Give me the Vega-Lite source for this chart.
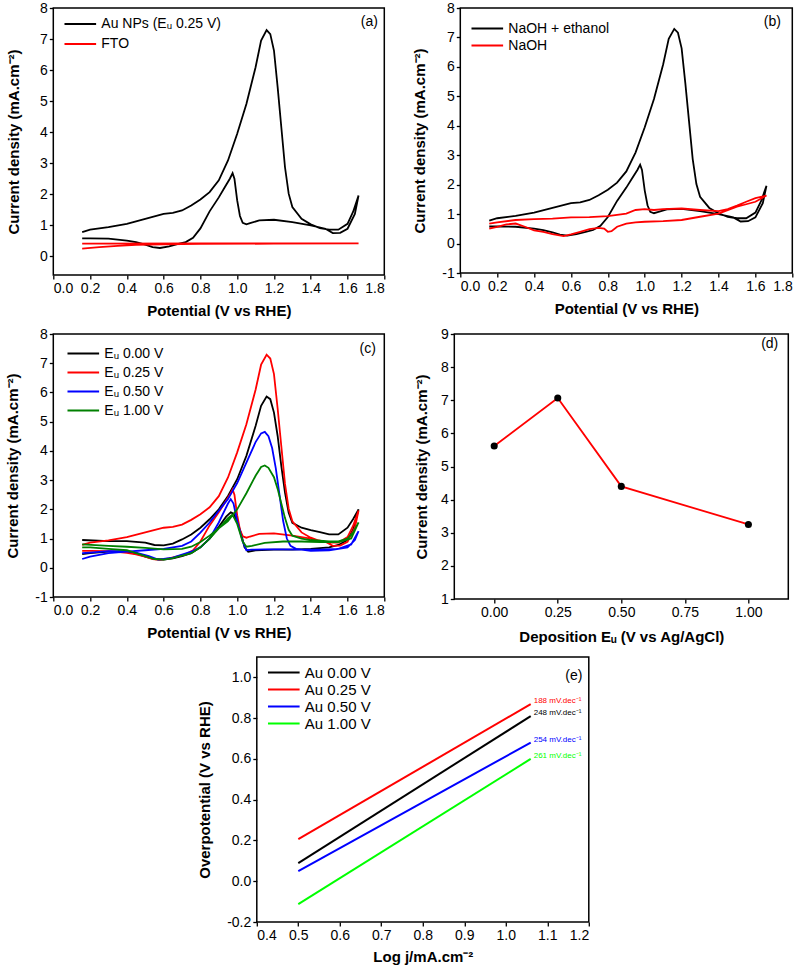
{
  "$schema": "https://vega.github.io/schema/vega-lite/v6.json",
  "background": "white",
  "padding": {"left": 5, "top": 0, "right": 0, "bottom": 0},
  "config": {
    "font": "Liberation Sans",
    "view": {"stroke": "black", "strokeWidth": 1.5},
    "axis": {"grid": false, "domain": false, "tickColor": "black", "tickSize": 4, "tickWidth": 1.3, "labelColor": "black", "labelFontSize": 14, "labelFont": "Liberation Sans", "titleFont": "Liberation Sans", "titleFontSize": 15, "titleFontWeight": "bold", "titleColor": "black", "labelPadding": 2, "labelOverlap": false, "labelBound": false},
    "axisX": {"titlePadding": 8},
    "legend": {"title": null, "symbolType": "stroke", "symbolSize": 1000, "symbolStrokeWidth": 2, "labelFont": "Liberation Sans", "labelFontSize": 14, "labelColor": "black", "rowPadding": 0, "labelOffset": 4, "orient": "none"},
    "line": {"strokeWidth": 1.8},
    "title": {"fontWeight": "normal", "fontSize": 14, "font": "Liberation Sans", "anchor": "end", "orient": "top", "color": "black"}
  },
  "datasets": {
    "au025": [
      {"v":0.157,"j":0.78},{"v":0.2,"j":0.86},{"v":0.3,"j":0.94},{"v":0.4,"j":1.05},{"v":0.5,"j":1.21},{"v":0.6,"j":1.37},{"v":0.65,"j":1.4},{"v":0.7,"j":1.48},{"v":0.75,"j":1.64},{"v":0.8,"j":1.83},{"v":0.85,"j":2.07},{"v":0.9,"j":2.45},{"v":0.95,"j":3.09},{"v":1.0,"j":3.95},{"v":1.05,"j":4.91},{"v":1.1,"j":6.09},{"v":1.13,"j":6.95},{"v":1.16,"j":7.29},{"v":1.18,"j":7.16},{"v":1.2,"j":6.63},{"v":1.22,"j":5.45},{"v":1.24,"j":4.16},{"v":1.26,"j":2.87},{"v":1.28,"j":2.02},{"v":1.3,"j":1.59},{"v":1.35,"j":1.21},{"v":1.4,"j":1.03},{"v":1.45,"j":0.91},{"v":1.5,"j":0.86},{"v":1.55,"j":0.86},{"v":1.6,"j":1.05},{"v":1.63,"j":1.43},{"v":1.66,"j":1.96},
      {"v":1.64,"j":1.37},{"v":1.6,"j":0.89},{"v":1.56,"j":0.76},{"v":1.52,"j":0.75},{"v":1.48,"j":0.89},{"v":1.4,"j":1.0},{"v":1.3,"j":1.1},{"v":1.2,"j":1.18},{"v":1.12,"j":1.16},{"v":1.07,"j":1.07},{"v":1.05,"j":1.03},{"v":1.03,"j":1.08},{"v":1.015,"j":1.3},{"v":1.0,"j":1.8},{"v":0.985,"j":2.5},{"v":0.975,"j":2.68},{"v":0.96,"j":2.5},{"v":0.93,"j":2.2},{"v":0.9,"j":1.9},{"v":0.85,"j":1.45},{"v":0.8,"j":0.9},{"v":0.76,"j":0.6},{"v":0.72,"j":0.46},{"v":0.68,"j":0.4},{"v":0.63,"j":0.32},{"v":0.58,"j":0.27},{"v":0.54,"j":0.3},{"v":0.5,"j":0.38},{"v":0.45,"j":0.46},{"v":0.4,"j":0.51},{"v":0.3,"j":0.57},{"v":0.2,"j":0.58},{"v":0.157,"j":0.58}
    ],
    "fto": [
      {"v":0.157,"j":0.25},{"v":0.25,"j":0.3},{"v":0.35,"j":0.34},{"v":0.45,"j":0.37},{"v":0.6,"j":0.39},{"v":0.8,"j":0.4},{"v":1.2,"j":0.41},{"v":1.66,"j":0.42},{"v":1.2,"j":0.42},{"v":0.8,"j":0.42},{"v":0.157,"j":0.41}
    ],
    "naoh": [
      {"v":0.157,"j":0.68},{"v":0.2,"j":0.72},{"v":0.3,"j":0.8},{"v":0.4,"j":0.83},{"v":0.5,"j":0.85},{"v":0.6,"j":0.89},{"v":0.7,"j":0.9},{"v":0.8,"j":0.93},{"v":0.9,"j":1.02},{"v":0.95,"j":1.14},{"v":1.0,"j":1.17},{"v":1.05,"j":1.14},{"v":1.1,"j":1.17},{"v":1.2,"j":1.19},{"v":1.3,"j":1.14},{"v":1.4,"j":1.1},{"v":1.45,"j":1.17},{"v":1.5,"j":1.29},{"v":1.55,"j":1.42},{"v":1.6,"j":1.54},{"v":1.66,"j":1.63},
      {"v":1.6,"j":1.42},{"v":1.5,"j":1.25},{"v":1.4,"j":1.02},{"v":1.3,"j":0.91},{"v":1.2,"j":0.8},{"v":1.1,"j":0.76},{"v":1.0,"j":0.74},{"v":0.95,"j":0.72},{"v":0.9,"j":0.68},{"v":0.85,"j":0.57},{"v":0.82,"j":0.42},{"v":0.8,"j":0.4},{"v":0.78,"j":0.51},{"v":0.75,"j":0.53},{"v":0.7,"j":0.49},{"v":0.65,"j":0.4},{"v":0.6,"j":0.31},{"v":0.56,"j":0.25},{"v":0.5,"j":0.32},{"v":0.45,"j":0.4},{"v":0.4,"j":0.45},{"v":0.35,"j":0.57},{"v":0.3,"j":0.68},{"v":0.25,"j":0.65},{"v":0.2,"j":0.57},{"v":0.157,"j":0.51}
    ],
    "au000": [
      {"v":0.157,"j":0.95},{"v":0.3,"j":0.91},{"v":0.4,"j":0.91},{"v":0.5,"j":0.86},{"v":0.55,"j":0.78},{"v":0.6,"j":0.77},{"v":0.65,"j":0.83},{"v":0.7,"j":0.97},{"v":0.75,"j":1.14},{"v":0.8,"j":1.37},{"v":0.85,"j":1.66},{"v":0.9,"j":2.0},{"v":0.95,"j":2.46},{"v":1.0,"j":3.03},{"v":1.05,"j":3.83},{"v":1.1,"j":4.85},{"v":1.13,"j":5.54},{"v":1.16,"j":5.86},{"v":1.18,"j":5.77},{"v":1.2,"j":5.31},{"v":1.22,"j":4.51},{"v":1.24,"j":3.48},{"v":1.26,"j":2.57},{"v":1.28,"j":1.88},{"v":1.3,"j":1.54},{"v":1.35,"j":1.37},{"v":1.4,"j":1.29},{"v":1.45,"j":1.22},{"v":1.5,"j":1.14},{"v":1.55,"j":1.14},{"v":1.6,"j":1.37},{"v":1.63,"j":1.66},{"v":1.66,"j":2.0},
      {"v":1.63,"j":1.3},{"v":1.6,"j":0.95},{"v":1.55,"j":0.78},{"v":1.5,"j":0.7},{"v":1.4,"j":0.65},{"v":1.3,"j":0.62},{"v":1.2,"j":0.62},{"v":1.1,"j":0.6},{"v":1.06,"j":0.55},{"v":1.04,"j":0.7},{"v":1.02,"j":1.2},{"v":1.0,"j":1.6},{"v":0.98,"j":1.85},{"v":0.965,"j":1.9},{"v":0.94,"j":1.75},{"v":0.9,"j":1.4},{"v":0.85,"j":1.0},{"v":0.8,"j":0.7},{"v":0.75,"j":0.5},{"v":0.7,"j":0.4},{"v":0.65,"j":0.32},{"v":0.6,"j":0.28},{"v":0.55,"j":0.3},{"v":0.5,"j":0.38},{"v":0.45,"j":0.48},{"v":0.4,"j":0.55},{"v":0.3,"j":0.55},{"v":0.2,"j":0.5},{"v":0.157,"j":0.47}
    ],
    "au050": [
      {"v":0.157,"j":0.3},{"v":0.2,"j":0.38},{"v":0.3,"j":0.5},{"v":0.4,"j":0.55},{"v":0.5,"j":0.6},{"v":0.6,"j":0.65},{"v":0.7,"j":0.75},{"v":0.75,"j":0.9},{"v":0.8,"j":1.2},{"v":0.85,"j":1.55},{"v":0.9,"j":1.95},{"v":0.95,"j":2.35},{"v":1.0,"j":2.9},{"v":1.05,"j":3.6},{"v":1.1,"j":4.3},{"v":1.13,"j":4.6},{"v":1.15,"j":4.65},{"v":1.17,"j":4.5},{"v":1.19,"j":4.1},{"v":1.21,"j":3.4},{"v":1.23,"j":2.5},{"v":1.25,"j":1.6},{"v":1.27,"j":1.0},{"v":1.29,"j":0.75},{"v":1.32,"j":0.65},{"v":1.4,"j":0.58},{"v":1.5,"j":0.6},{"v":1.6,"j":0.7},{"v":1.64,"j":0.95},{"v":1.66,"j":1.25},
      {"v":1.62,"j":0.8},{"v":1.55,"j":0.65},{"v":1.45,"j":0.62},{"v":1.35,"j":0.62},{"v":1.25,"j":0.63},{"v":1.15,"j":0.63},{"v":1.08,"j":0.62},{"v":1.05,"j":0.6},{"v":1.03,"j":0.9},{"v":1.0,"j":1.6},{"v":0.98,"j":2.2},{"v":0.965,"j":2.35},{"v":0.95,"j":2.2},{"v":0.9,"j":1.55},{"v":0.85,"j":1.0},{"v":0.8,"j":0.7},{"v":0.75,"j":0.55},{"v":0.7,"j":0.45},{"v":0.65,"j":0.35},{"v":0.6,"j":0.3},{"v":0.57,"j":0.28},{"v":0.52,"j":0.4},{"v":0.45,"j":0.52},{"v":0.4,"j":0.57},{"v":0.3,"j":0.57},{"v":0.2,"j":0.52},{"v":0.157,"j":0.5}
    ],
    "au100": [
      {"v":0.157,"j":0.8},{"v":0.3,"j":0.75},{"v":0.4,"j":0.72},{"v":0.5,"j":0.68},{"v":0.6,"j":0.63},{"v":0.7,"j":0.65},{"v":0.75,"j":0.72},{"v":0.8,"j":0.88},{"v":0.85,"j":1.1},{"v":0.9,"j":1.35},{"v":0.95,"j":1.6},{"v":1.0,"j":2.0},{"v":1.05,"j":2.55},{"v":1.1,"j":3.15},{"v":1.13,"j":3.45},{"v":1.15,"j":3.5},{"v":1.17,"j":3.42},{"v":1.2,"j":3.1},{"v":1.22,"j":2.7},{"v":1.24,"j":2.2},{"v":1.26,"j":1.7},{"v":1.28,"j":1.3},{"v":1.3,"j":1.1},{"v":1.35,"j":1.0},{"v":1.4,"j":0.95},{"v":1.5,"j":0.9},{"v":1.55,"j":0.9},{"v":1.6,"j":1.0},{"v":1.63,"j":1.2},{"v":1.66,"j":1.55},
      {"v":1.62,"j":1.0},{"v":1.55,"j":0.88},{"v":1.45,"j":0.88},{"v":1.35,"j":0.9},{"v":1.25,"j":0.9},{"v":1.15,"j":0.85},{"v":1.08,"j":0.75},{"v":1.05,"j":0.72},{"v":1.03,"j":0.9},{"v":1.0,"j":1.5},{"v":0.98,"j":1.75},{"v":0.97,"j":1.8},{"v":0.95,"j":1.7},{"v":0.9,"j":1.35},{"v":0.85,"j":1.0},{"v":0.8,"j":0.7},{"v":0.75,"j":0.5},{"v":0.7,"j":0.42},{"v":0.65,"j":0.33},{"v":0.6,"j":0.28},{"v":0.55,"j":0.3},{"v":0.5,"j":0.4},{"v":0.45,"j":0.5},{"v":0.4,"j":0.6},{"v":0.3,"j":0.65},{"v":0.2,"j":0.7},{"v":0.157,"j":0.7}
    ],
    "dep": [
      {"e":0.0,"j":5.62},{"e":0.25,"j":7.07},{"e":0.5,"j":4.4},{"e":1.0,"j":3.25}
    ],
    "tafel": [
      {"s":"Au 0.00 V","x":0.5,"y":0.089,"slope":""},{"s":"Au 0.00 V","x":1.06,"y":0.81,"slope":"248 mV.dec⁻¹"},
      {"s":"Au 0.25 V","x":0.5,"y":0.206,"slope":""},{"s":"Au 0.25 V","x":1.06,"y":0.869,"slope":"188 mV.dec⁻¹"},
      {"s":"Au 0.50 V","x":0.5,"y":0.049,"slope":""},{"s":"Au 0.50 V","x":1.06,"y":0.68,"slope":"254 mV.dec⁻¹"},
      {"s":"Au 1.00 V","x":0.5,"y":-0.112,"slope":""},{"s":"Au 1.00 V","x":1.06,"y":0.6,"slope":"261 mV.dec⁻¹"}
    ]
  },
  "spacing": 11,
  "center": true,
  "resolve": {"scale": {"x": "independent", "y": "independent", "color": "independent"}, "legend": {"color": "independent"}},
  "vconcat": [
    {
      "spacing": 7,
      "resolve": {"scale": {"x": "independent", "y": "independent", "color": "independent"}, "legend": {"color": "independent"}},
      "vconcat": [
        {
          "bounds": "flush",
          "spacing": 76,
          "resolve": {"scale": {"x": "independent", "y": "independent", "color": "independent"}, "legend": {"color": "independent"}},
          "hconcat": [
            {
              "width": 331, "height": 267,
              "title": {"text": "(a)", "offset": -28, "dx": -7},
              "encoding": {
                "x": {"field": "v", "type": "quantitative", "scale": {"domain": [0, 1.8], "nice": false}, "axis": {"values": [0,0.2,0.4,0.6,0.8,1.0,1.2,1.4,1.6,1.8], "format": ".1f", "labelOverlap": false, "title": "Potential (V vs RHE)"}},
                "y": {"field": "j", "type": "quantitative", "scale": {"domain": [-0.6, 8], "nice": false}, "axis": {"values": [0,1,2,3,4,5,6,7,8], "labelOverlap": false, "title": "Current density (mA.cm⁻²)", "titlePadding": 18}},
                "order": {"value": null}
              },
              "layer": [
                {
                  "data": {"name": "au025"},
                  "mark": {"type": "line", "clip": true},
                  "encoding": {
                    "color": {"datum": "Au NPs (Eᵤ 0.25 V)", "type": "nominal", "scale": {"domain": ["Au NPs (Eᵤ 0.25 V)", "FTO"], "range": ["black", "red"]}, "legend": {"legendX": 10, "legendY": 6, "clipHeight": 20}}
                  }
                },
                {
                  "data": {"name": "fto"},
                  "mark": {"type": "line", "clip": true},
                  "encoding": {"color": {"datum": "FTO", "type": "nominal"}}
                }
              ]
            },
            {
              "width": 332, "height": 265,
              "title": {"text": "(b)", "offset": -28, "dx": -12},
              "encoding": {
                "x": {"field": "v", "type": "quantitative", "scale": {"domain": [0, 1.8], "nice": false}, "axis": {"values": [0,0.2,0.4,0.6,0.8,1.0,1.2,1.4,1.6,1.8], "format": ".1f", "labelOverlap": false, "title": "Potential (V vs RHE)"}},
                "y": {"field": "j", "type": "quantitative", "scale": {"domain": [-1, 8], "nice": false}, "axis": {"values": [-1,0,1,2,3,4,5,6,7,8], "labelOverlap": false, "labelExpr": "replace(datum.label, '−', '-')", "title": "Current density (mA.cm⁻²)", "titlePadding": 14}},
                "order": {"value": null}
              },
              "layer": [
                {
                  "data": {"name": "au025"},
                  "mark": {"type": "line", "clip": true},
                  "encoding": {
                    "color": {"datum": "NaOH + ethanol", "type": "nominal", "scale": {"domain": ["NaOH + ethanol", "NaOH"], "range": ["black", "red"]}, "legend": {"legendX": 10, "legendY": 12, "clipHeight": 17}}
                  }
                },
                {
                  "data": {"name": "naoh"},
                  "mark": {"type": "line", "clip": true},
                  "encoding": {"color": {"datum": "NaOH", "type": "nominal"}}
                }
              ]
            }
          ]
        },
        {
          "bounds": "flush",
          "spacing": 70,
          "resolve": {"scale": {"x": "independent", "y": "independent", "color": "independent"}, "legend": {"color": "independent"}},
          "hconcat": [
            {
              "width": 331, "height": 263,
              "title": {"text": "(c)", "offset": -29, "dx": -9},
              "encoding": {
                "x": {"field": "v", "type": "quantitative", "scale": {"domain": [0, 1.8], "nice": false}, "axis": {"values": [0,0.2,0.4,0.6,0.8,1.0,1.2,1.4,1.6,1.8], "format": ".1f", "labelOverlap": false, "title": "Potential (V vs RHE)"}},
                "y": {"field": "j", "type": "quantitative", "scale": {"domain": [-1, 8], "nice": false}, "axis": {"values": [-1,0,1,2,3,4,5,6,7,8], "labelOverlap": false, "labelExpr": "replace(datum.label, '−', '-')", "title": "Current density (mA.cm⁻²)", "titlePadding": 14}},
                "order": {"value": null}
              },
              "layer": [
                {
                  "data": {"name": "au000"},
                  "mark": {"type": "line", "clip": true},
                  "encoding": {
                    "color": {"datum": "Eᵤ 0.00 V", "type": "nominal", "scale": {"domain": ["Eᵤ 0.00 V", "Eᵤ 0.25 V", "Eᵤ 0.50 V", "Eᵤ 1.00 V"], "range": ["black", "red", "blue", "#008000"]}, "legend": {"legendX": 13, "legendY": 10, "clipHeight": 19}}
                  }
                },
                {
                  "data": {"name": "au025"},
                  "mark": {"type": "line", "clip": true},
                  "encoding": {"color": {"datum": "Eᵤ 0.25 V", "type": "nominal"}}
                },
                {
                  "data": {"name": "au050"},
                  "mark": {"type": "line", "clip": true},
                  "encoding": {"color": {"datum": "Eᵤ 0.50 V", "type": "nominal"}}
                },
                {
                  "data": {"name": "au100"},
                  "mark": {"type": "line", "clip": true},
                  "encoding": {"color": {"datum": "Eᵤ 1.00 V", "type": "nominal"}}
                }
              ]
            },
            {
              "width": 334, "height": 265,
              "title": {"text": "(d)", "offset": -24, "dx": -10},
              "data": {"name": "dep"},
              "encoding": {
                "x": {"field": "e", "type": "quantitative", "scale": {"domain": [-0.157, 1.157], "nice": false}, "axis": {"values": [0, 0.25, 0.5, 0.75, 1.0], "format": ".2f", "labelOverlap": false, "title": "Deposition Eᵤ (V vs Ag/AgCl)", "titlePadding": 10}},
                "y": {"field": "j", "type": "quantitative", "scale": {"domain": [1, 9], "nice": false}, "axis": {"values": [1,2,3,4,5,6,7,8,9], "labelOverlap": false, "title": "Current density (mA.cm⁻²)", "titlePadding": 11}}
              },
              "layer": [
                {"mark": {"type": "line", "color": "red", "strokeWidth": 1.8}},
                {"mark": {"type": "point", "filled": true, "color": "black", "size": 50, "opacity": 1}}
              ]
            }
          ]
        }
      ]
    },
    {
      "width": 332, "height": 265,
      "title": {"text": "(e)", "offset": -26, "dx": -7},
      "data": {"name": "tafel"},
      "encoding": {
        "x": {"field": "x", "type": "quantitative", "scale": {"domain": [0.4, 1.2], "nice": false}, "axis": {"values": [0.4,0.5,0.6,0.7,0.8,0.9,1.0,1.1,1.2], "format": ".1f", "labelOverlap": false, "title": "Log j/mA.cm⁻²", "titlePadding": 7}},
        "y": {"field": "y", "type": "quantitative", "scale": {"domain": [-0.2, 1.1], "nice": false}, "axis": {"values": [-0.2,0,0.2,0.4,0.6,0.8,1.0], "format": ".1f", "labelOverlap": false, "labelExpr": "replace(datum.label, '−', '-')", "title": "Overpotential (V vs RHE)", "titlePadding": 14}},
        "color": {"field": "s", "type": "nominal", "scale": {"domain": ["Au 0.00 V", "Au 0.25 V", "Au 0.50 V", "Au 1.00 V"], "range": ["black", "red", "blue", "#00ff00"]}, "legend": {"legendX": 10, "legendY": 7, "clipHeight": 17, "labelFontSize": 15}}
      },
      "layer": [
        {"mark": {"type": "line", "strokeWidth": 2}},
        {
          "transform": [{"filter": "datum.slope != ''"}],
          "mark": {"type": "text", "align": "left", "baseline": "middle", "dx": 3, "dy": -3, "fontSize": 8},
          "encoding": {"text": {"field": "slope"}}
        }
      ]
    }
  ]
}
